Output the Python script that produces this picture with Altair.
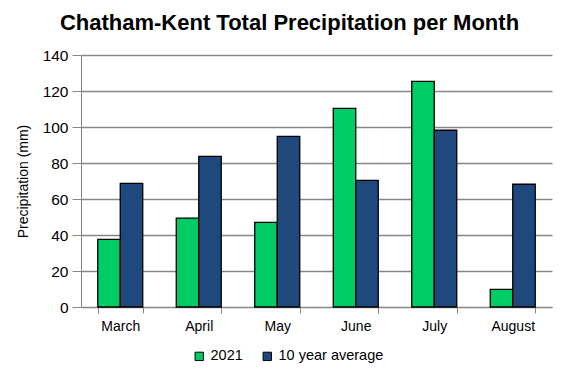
import altair as alt
import pandas as pd

months = ["March", "April", "May", "June", "July", "August"]
series = ["2021", "10 year average"]
values_2021 = [37.6, 49.4, 47.0, 110.4, 125.4, 9.8]
values_avg = [68.7, 83.7, 94.8, 70.4, 98.2, 68.2]
y_ticks = [0, 20, 40, 60, 80, 100, 120, 140]
colors = ["#00CC66", "#1F497D"]

rows = []
for m, a, b in zip(months, values_2021, values_avg):
    rows.append({"Month": m, "Series": series[0], "Precip": a})
    rows.append({"Month": m, "Series": series[1], "Precip": b})
df = pd.DataFrame(rows)

font = "Liberation Sans"

chart = alt.Chart(df).mark_bar(stroke="black", strokeWidth=1.3).encode(
    x=alt.X("Month:N", sort=months,
            scale=alt.Scale(paddingInner=0.427, paddingOuter=0.2135),
            axis=alt.Axis(title=None, labelAngle=0, tickBand="extent",
                          domainColor="#868686", tickColor="#868686",
                          tickSize=6, labelPadding=6, labelFontSize=14,
                          labelColor="black", labelFont=font)),
    xOffset=alt.XOffset("Series:N", sort=series,
                        scale=alt.Scale(paddingInner=0, paddingOuter=0)),
    y=alt.Y("Precip:Q", scale=alt.Scale(domain=[0, 140], nice=False),
            axis=alt.Axis(values=y_ticks, title="Precipitation (mm)",
                          grid=True, gridColor="#868686", gridWidth=1.3,
                          domainColor="#868686", tickColor="#868686",
                          tickSize=9, labelPadding=4, labelFontSize=15.5,
                          labelColor="black", labelFont=font,
                          titleFont=font, titleFontSize=14,
                          titleFontWeight="normal", titleColor="black",
                          titlePadding=12)),
    color=alt.Color("Series:N", sort=series,
                    scale=alt.Scale(domain=series, range=colors),
                    legend=alt.Legend(title=None, orient="none",
                                      direction="horizontal",
                                      legendX=111, legendY=294,
                                      symbolType="square", symbolSize=70,
                                      symbolStrokeColor="black",
                                      symbolStrokeWidth=1,
                                      labelFontSize=14.5, labelFont=font,
                                      labelColor="black", columnPadding=17,
                                      labelOffset=4)),
).properties(
    width=471, height=252,
    title=alt.TitleParams("Chatham-Kent Total Precipitation per Month",
                          font=font, fontSize=22, fontWeight="bold",
                          color="black", anchor="middle", dx=-27, offset=13),
).configure_view(stroke=None)

chart = chart.properties(autosize=alt.AutoSizeParams(type="none"))
chart = chart.properties(padding={"left": 73, "top": 47, "right": 7, "bottom": 60})

chart.save("out.html", embed_options={"renderer": "svg", "actions": False})
